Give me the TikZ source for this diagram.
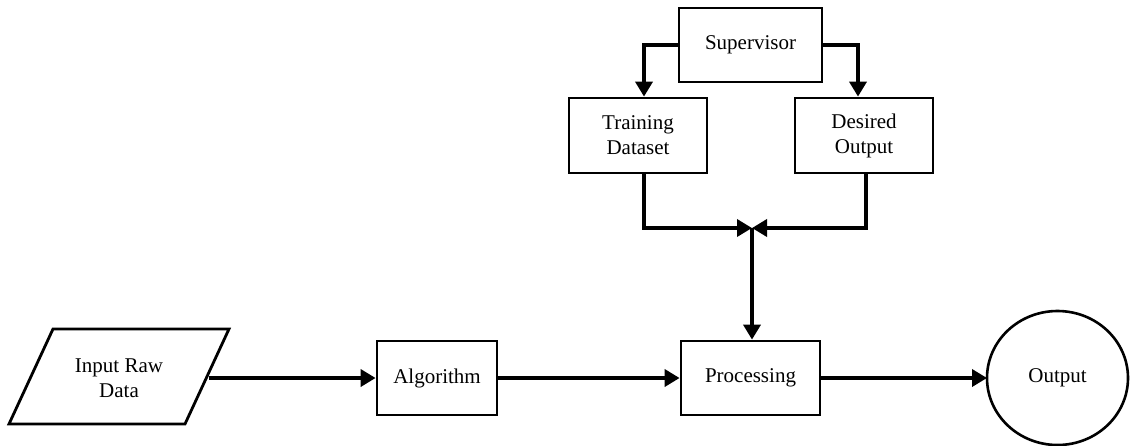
\documentclass[tikz,border=0pt]{standalone}
\usepackage{fontspec}
\setmainfont{Liberation Serif}
\usetikzlibrary{arrows.meta}
\begin{document}
\begin{tikzpicture}[x=1pt,y=-1pt,
  every node/.style={font=\fontsize{21}{25}\selectfont, align=center},
  box/.style={draw, line width=2.8pt, minimum height=74pt, inner sep=0pt},
  link/.style={line width=3.6pt, -{Triangle[length=15pt,width=17pt]}}]
\useasboundingbox (0,0) rectangle (1132,445);

% input parallelogram
\draw[line width=2.8pt, line join=miter] (53,329) -- (229,329) -- (185,424) -- (9,424) -- cycle;
\node (input) at (119,378) {Input Raw\\Data};
\coordinate (inR) at (209,378);

% main chain
\node[box, minimum width=120pt] (algo) at (437,378) {Algorithm};
\node[box, minimum width=139pt] (proc) at (750.5,378) {Processing};
\draw[line width=2.6pt] (1057.5,378) ellipse [x radius=70.5, y radius=67];
\node (out) at (1057.5,378) {Output};
\coordinate (outW) at (987,378);

% supervision branch
\node[box, minimum width=143pt] (sup) at (750.5,45) {Supervisor};
\node[box, minimum width=138pt, minimum height=75pt] (train) at (638,135.5) {Training\\Dataset};
\node[box, minimum width=138pt, minimum height=75pt] (des) at (864,135.5) {Desired\\Output};
\coordinate (join) at (752,228);

% connectors
\draw[link] (inR) -- (algo.west);
\draw[link] (algo.east) -- (proc.west);
\draw[link] (proc.east) -- (outW);

\draw[link] (sup.west) -| ([xshift=6pt]train.north);
\draw[link] (sup.east) -| ([xshift=-6pt]des.north);
\draw[link] ([xshift=6pt]train.south) |- (join);
\draw[link] ([xshift=2pt]des.south) |- (join);
\draw[link] (join) -- (join |- proc.north);
\end{tikzpicture}
\end{document}
